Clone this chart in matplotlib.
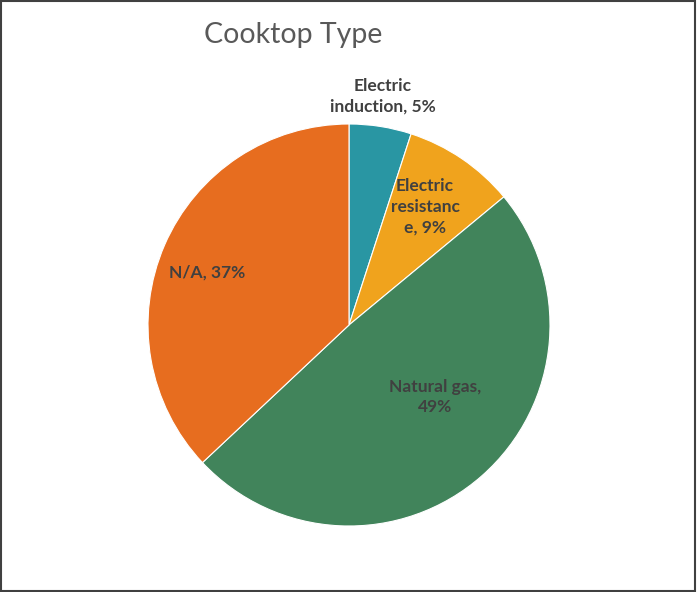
import matplotlib
matplotlib.use("Agg")
import matplotlib.pyplot as plt
from matplotlib.patches import Rectangle

categories = ["Electric induction", "Electric resistance", "Natural gas", "N/A"]
values = [5, 9, 49, 37]
label_texts = ["Electric\ninduction, 5%", "Electric\nresistanc\ne, 9%", "Natural gas,\n49%", "N/A, 37%"]
colors = ["#2996A3", "#F0A31D", "#41845B", "#E76D1F"]
label_pos = [(0.169, 1.137), (0.378, 0.587), (0.428, -0.358), (-0.706, 0.259)]

plt.rcParams['font.family'] = ['Lato', 'DejaVu Sans']

fig = plt.figure(figsize=(6.97, 5.92), dpi=100)
W, H = 697, 592
cx, cy, r = 349, 325, 201
ax = fig.add_axes([(cx - r) / W, (H - cy - r) / H, 2 * r / W, 2 * r / H])
ax.pie(values, colors=colors, startangle=90, counterclock=False, radius=1,
       wedgeprops=dict(edgecolor="white", linewidth=0.8))
ax.set_xlim(-1, 1)
ax.set_ylim(-1, 1)
ax.set_aspect("equal")
ax.axis("off")

for txt, (x, y) in zip(label_texts, label_pos):
    ax.text(x, y, txt, ha="center", va="center", fontsize=12.5, fontweight="bold",
            color="#404040", linespacing=1.35, clip_on=False)

fig.text(293 / W, 1 - 35 / H, "Cooktop Type", ha="center", va="center",
         fontsize=20.5, color="#595959")

fig.patches.append(Rectangle((0.001, 0.002), 0.996, 0.996, transform=fig.transFigure,
                             fill=False, edgecolor="#404040", linewidth=1.5))

fig.savefig("out.png", dpi=100)
